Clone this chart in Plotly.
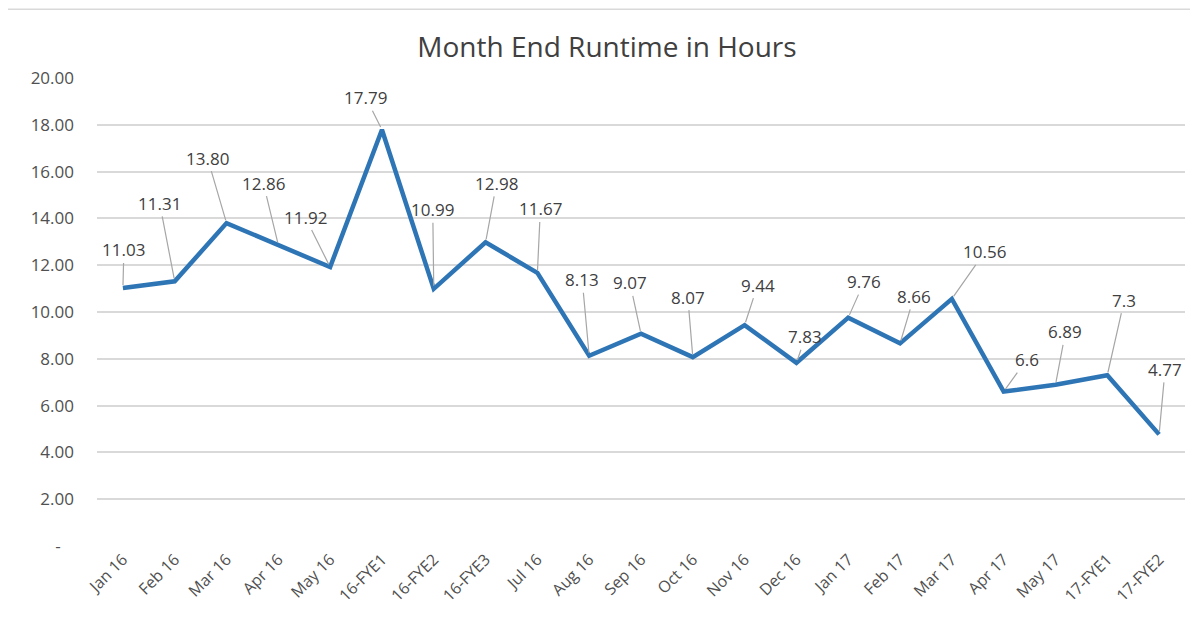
import plotly.graph_objects as go

categories = ["Jan 16", "Feb 16", "Mar 16", "Apr 16", "May 16", "16-FYE1", "16-FYE2",
              "16-FYE3", "Jul 16", "Aug 16", "Sep 16", "Oct 16", "Nov 16", "Dec 16",
              "Jan 17", "Feb 17", "Mar 17", "Apr 17", "May 17", "17-FYE1", "17-FYE2"]
values = [11.03, 11.31, 13.80, 12.86, 11.92, 17.79, 10.99, 12.98, 11.67, 8.13, 9.07,
          8.07, 9.44, 7.83, 9.76, 8.66, 10.56, 6.6, 6.89, 7.3, 4.77]
label_text = ["11.03", "11.31", "13.80", "12.86", "11.92", "17.79", "10.99", "12.98",
              "11.67", "8.13", "9.07", "8.07", "9.44", "7.83", "9.76", "8.66", "10.56",
              "6.6", "6.89", "7.3", "4.77"]
# label offsets (pixels) from data point, as placed in the source chart
label_dx = [1, -15, -19, -15, -25, -16, -1, 11, 3, -7, -11, -5, 13, 9, 16, 14, 33, 23, 10, 17, 6]
label_dy = [-38, -78, -65, -62, -50, -32, -79, -59, -64, -76, -51, -60, -40, -26, -36, -47, -47, -32, -53, -75, -65]

y_tickvals = [0, 2, 4, 6, 8, 10, 12, 14, 16, 18, 20]
y_ticktext = ["-\u00a0\u00a0\u00a0", "2.00", "4.00", "6.00", "8.00", "10.00", "12.00",
              "14.00", "16.00", "18.00", "20.00"]

font_family = "Open Sans, Noto Sans, sans-serif"

fig = go.Figure()
fig.add_trace(go.Scatter(
    x=list(range(len(categories))), y=values, mode="lines",
    line=dict(color="#2E75B6", width=4.5), hoverinfo="x+y", showlegend=False))

for i, (v, t, dx, dy) in enumerate(zip(values, label_text, label_dx, label_dy)):
    fig.add_annotation(x=i, y=v, text=t, showarrow=True, arrowhead=0, arrowwidth=1.2,
                       arrowcolor="#A6A6A6", ax=dx, ay=dy, standoff=3,
                       font=dict(family=font_family, size=17, color="#404040"))

fig.add_shape(type="rect", xref="paper", yref="paper", x0=-0.0836, x1=1.0064,
              y0=-0.21, y1=1.147, line=dict(color="#D9D9D9", width=1.5), layer="below")

fig.update_layout(
    width=1198, height=633,
    margin=dict(l=89, r=21, t=70, b=95),
    paper_bgcolor="white", plot_bgcolor="white",
    title=dict(text="Month End Runtime in Hours", x=0.5, xanchor="center",
               y=0.938, yanchor="middle",
               font=dict(family=font_family, size=28, color="#404040")),
    font=dict(family=font_family, color="#505050"),
    xaxis=dict(range=[-0.5, len(categories) - 0.5], tickmode="array",
               tickvals=list(range(len(categories))), ticktext=categories,
               tickangle=-45, showgrid=False, zeroline=False, showline=False,
               tickfont=dict(size=16, color="#505050")),
    yaxis=dict(range=[0, 20], tickmode="array", tickvals=y_tickvals, ticktext=y_ticktext,
               showgrid=True, gridcolor="#D9D9D9", gridwidth=1.5, zeroline=False,
               showline=False, ticklabelstandoff=22,
               tickfont=dict(size=17, color="#505050")),
)

fig.write_html("out.html")
